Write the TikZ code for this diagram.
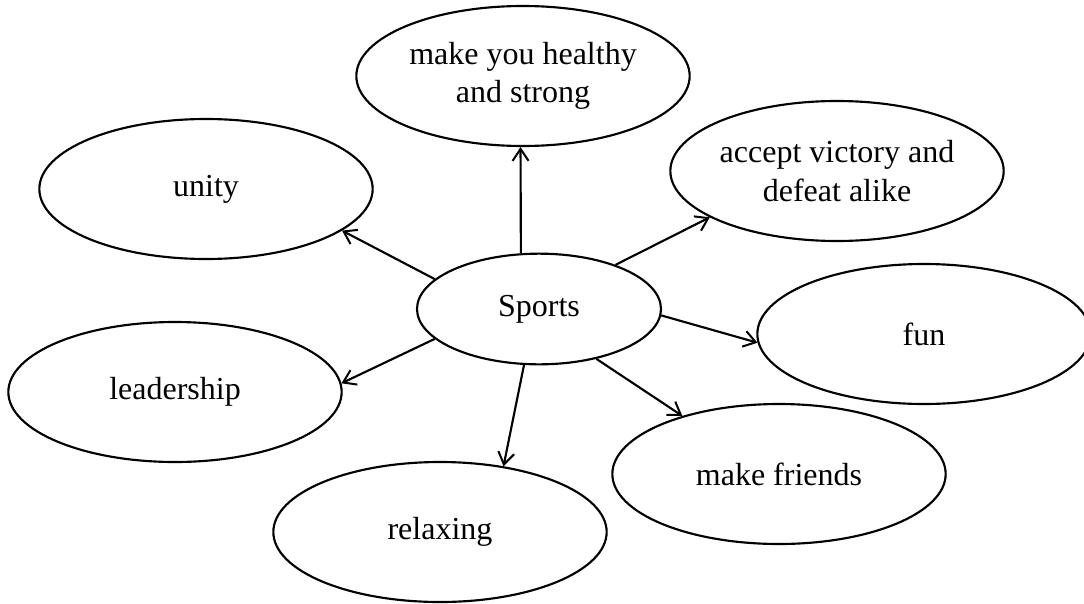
\documentclass[tikz,border=0pt]{standalone}
\usepackage{fontspec}
\setmainfont{Liberation Serif}
\usetikzlibrary{shapes.geometric,arrows.meta}

\tikzset{every picture/.style={line width=1.6pt}}
\tikzset{
  bubble/.style={draw, ellipse, inner sep=0pt, minimum width=250pt, minimum height=105pt,
    align=center, font=\fontsize{24}{29}\selectfont},
  hub/.style={bubble, minimum width=183pt, minimum height=83pt},
  spoke/.style={-{Straight Barb[length=9pt,width=12pt,line width=1.5pt]}}
}

\begin{document}
\begin{tikzpicture}[x=0.75pt,y=0.75pt,yscale=-1,xscale=1]
\useasboundingbox (0,0) rectangle (1084,603); %set diagram size

% Ellipses
\node [hub] (sports) at (539,309) {Sports};
\node [bubble] (healthy) at (523,76) {make you healthy\\and strong};
\node [bubble] (unity) at (206,189) {unity};
\node [bubble] (accept) at (837,171) {accept victory and\\defeat alike};
\node [bubble] (fun) at (924,334) {fun};
\node [bubble] (leader) at (175,392) {leadership};
\node [bubble] (friends) at (779,474) {make friends};
\node [bubble] (relax) at (440,532) {relaxing};

% Straight Lines
\draw [spoke] (sports.108) -- (healthy.-92);
\draw [spoke] (sports.164) -- (unity.-17.5);
\draw [spoke] (sports.30.6) -- (accept.200.6);
\draw [spoke] (sports.-3.3) -- (fun.183.2);
\draw [spoke] (sports.196.4) -- (leader.3.1);
\draw [spoke] (sports.-41.3) -- (friends.149);
\draw [spoke] (sports.-105.2) -- (relax.46.4);

\end{tikzpicture}
\end{document}
